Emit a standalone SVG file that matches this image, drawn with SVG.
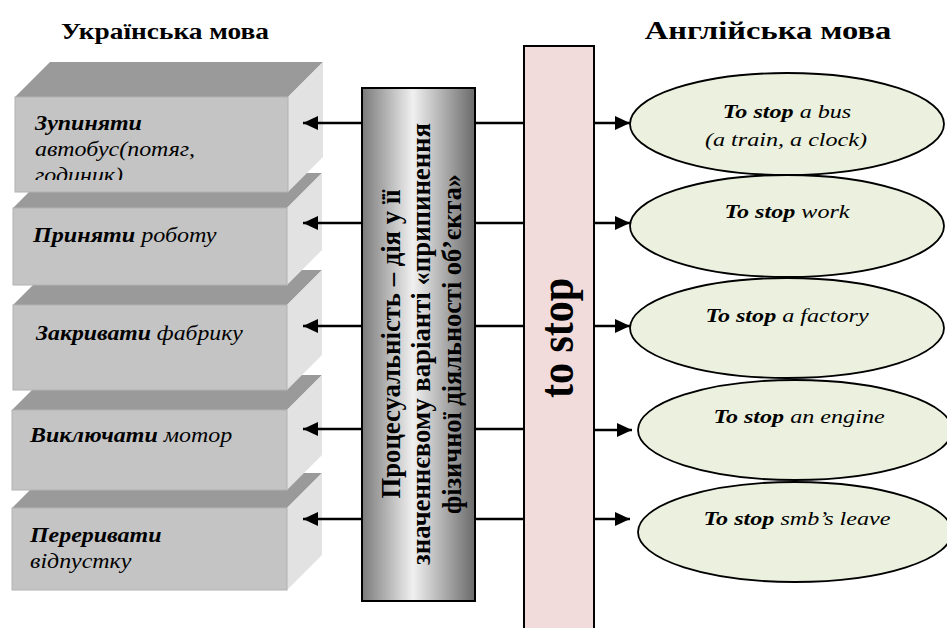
<svg xmlns="http://www.w3.org/2000/svg" width="947" height="628" viewBox="0 0 947 628" font-family="'Liberation Serif', 'Times New Roman', serif">
<style>
.top{fill:#9a9a9a}
.front{fill:#c4c4c4;stroke:#b2b2b2;stroke-width:1}
.side{fill:#e2e2e2}
.b{font-weight:bold}
.i{font-style:italic}
.bi{font-weight:bold;font-style:italic}
.conn{stroke:#000;stroke-width:2.5;fill:none}
.ell{fill:#ebf1de;stroke:#000;stroke-width:1.8}
text{font-family:'Liberation Serif','Times New Roman',serif;fill:#000}
</style>
<defs>
<marker id="ah" markerUnits="userSpaceOnUse" markerWidth="16" markerHeight="14" refX="15" refY="7" orient="auto">
<path d="M0,0 L15,7 L0,14 z" fill="#000"/>
</marker>
<linearGradient id="gg" x1="0" y1="0" x2="1" y2="0">
<stop offset="0" stop-color="#7a7a7a"/>
<stop offset="0.45" stop-color="#f0f0f0"/>
<stop offset="1" stop-color="#6a6a6a"/>
</linearGradient>
<clipPath id="c1"><rect x="15" y="97" width="273" height="83"/></clipPath>
</defs>
<rect width="947" height="628" fill="#fff"/>

<text class="b" font-size="24" text-anchor="middle" transform="matrix(1.14 0 0 1 165 39)">Українська мова</text>
<text class="b" font-size="25" text-anchor="middle" transform="matrix(1.3 0 0 1 768 39)">Англійська мова</text>

<g id="box5">
<polygon class="top" points="12,508 47,473 322,473 287,508"/>
<polygon class="side" points="287,508 322,473 322,555 287,590"/>
<rect class="front" x="12" y="508" width="275" height="82"/>
<text class="bi" font-size="21" transform="matrix(1.14 0 0 1 30 542)">Переривати</text>
<text class="i" font-size="21" transform="matrix(1.14 0 0 1 30 568)">відпустку</text>
</g>
<g id="box4">
<polygon class="top" points="12,410 47,375 322,375 287,410"/>
<polygon class="side" points="287,410 322,375 322,455 287,490"/>
<rect class="front" x="12" y="410" width="275" height="80"/>
<text font-size="21" transform="matrix(1.14 0 0 1 30 442)"><tspan class="bi">Виключати</tspan><tspan class="i"> мотор</tspan></text>
</g>
<g id="box3">
<polygon class="top" points="13,305 48,270 322,270 287,305"/>
<polygon class="side" points="287,305 322,270 322,355 287,390"/>
<rect class="front" x="13" y="305" width="274" height="85"/>
<text font-size="21" transform="matrix(1.13 0 0 1 36 340)"><tspan class="bi">Закривати</tspan><tspan class="i"> фабрику</tspan></text>
</g>
<g id="box2">
<polygon class="top" points="13,208 48,173 322,173 287,208"/>
<polygon class="side" points="287,208 322,173 322,250 287,285"/>
<rect class="front" x="13" y="208" width="274" height="77"/>
<text font-size="21" transform="matrix(1.15 0 0 1 33 242)"><tspan class="bi">Приняти</tspan><tspan class="i"> роботу</tspan></text>
</g>
<g id="box1">
<polygon class="top" points="15,97 50,62 323,62 288,97"/>
<polygon class="side" points="288,97 323,62 323,157 288,192"/>
<rect class="front" x="15" y="97" width="273" height="95"/>
<g clip-path="url(#c1)">
<text class="bi" font-size="21" transform="matrix(1.14 0 0 1 35 130)">Зупиняти</text>
<text class="i" font-size="21" transform="matrix(1.14 0 0 1 35 156)">автобус(потяг,</text>
<text class="i" font-size="21" transform="matrix(1.14 0 0 1 35 182)">годиник)</text>
</g>
</g>

<g id="connectors">
<line class="conn" x1="362" y1="123" x2="303" y2="123" marker-end="url(#ah)"/>
<line class="conn" x1="362" y1="223" x2="303" y2="223" marker-end="url(#ah)"/>
<line class="conn" x1="362" y1="326" x2="303" y2="326" marker-end="url(#ah)"/>
<line class="conn" x1="362" y1="429" x2="303" y2="429" marker-end="url(#ah)"/>
<line class="conn" x1="362" y1="519" x2="303" y2="519" marker-end="url(#ah)"/>
<line class="conn" x1="475" y1="123" x2="524" y2="123"/>
<line class="conn" x1="475" y1="223" x2="524" y2="223"/>
<line class="conn" x1="475" y1="326" x2="524" y2="326"/>
<line class="conn" x1="475" y1="429" x2="524" y2="429"/>
<line class="conn" x1="475" y1="519" x2="524" y2="519"/>
<line class="conn" x1="594" y1="123" x2="630" y2="123" marker-end="url(#ah)"/>
<line class="conn" x1="594" y1="223" x2="630" y2="223" marker-end="url(#ah)"/>
<line class="conn" x1="594" y1="326" x2="630" y2="326" marker-end="url(#ah)"/>
<line class="conn" x1="594" y1="430" x2="632" y2="430" marker-end="url(#ah)"/>
<line class="conn" x1="594" y1="519" x2="630" y2="519" marker-end="url(#ah)"/>
</g>

<g id="process">
<rect x="362" y="88" width="113" height="513" fill="url(#gg)" stroke="#000" stroke-width="2"/>
<g transform="translate(0,344) rotate(-90)">
<text class="b" x="0" y="400" font-size="28" text-anchor="middle" textLength="309" lengthAdjust="spacingAndGlyphs">Процесуальність – дія у її</text>
<text class="b" x="0" y="430" font-size="28" text-anchor="middle" textLength="442" lengthAdjust="spacingAndGlyphs">значеннєвому варіанті «припинення</text>
<text class="b" x="0" y="461" font-size="28" text-anchor="middle" textLength="340" lengthAdjust="spacingAndGlyphs">фізичної діяльності об’єкта»</text>
</g>
</g>

<g id="tostop">
<rect x="524" y="46" width="70" height="600" fill="#f2dcdb" stroke="#000" stroke-width="2"/>
<text class="b" font-size="48" text-anchor="middle" transform="translate(573,338) rotate(-90)" textLength="120" lengthAdjust="spacingAndGlyphs">to stop</text>
</g>

<g id="e1">
<ellipse class="ell" cx="787" cy="124" rx="157" ry="51"/>
<text font-size="19" text-anchor="middle" transform="matrix(1.27 0 0 1 787 118)"><tspan class="bi">To stop</tspan><tspan class="i"> a bus</tspan></text>
<text class="i" font-size="19" text-anchor="middle" transform="matrix(1.27 0 0 1 786 146)">(a train, a clock)</text>
</g>
<g id="e2">
<ellipse class="ell" cx="787" cy="226" rx="157" ry="51"/>
<text font-size="19" text-anchor="middle" transform="matrix(1.27 0 0 1 787 218)"><tspan class="bi">To stop</tspan><tspan class="i"> work</tspan></text>
</g>
<g id="e3">
<ellipse class="ell" cx="787" cy="328" rx="157" ry="50"/>
<text font-size="19" text-anchor="middle" transform="matrix(1.27 0 0 1 787 322)"><tspan class="bi">To stop</tspan><tspan class="i"> a factory</tspan></text>
</g>
<g id="e4">
<ellipse class="ell" cx="795" cy="430" rx="157" ry="50"/>
<text font-size="19" text-anchor="middle" transform="matrix(1.27 0 0 1 799 423)"><tspan class="bi">To stop</tspan><tspan class="i"> an engine</tspan></text>
</g>
<g id="e5">
<ellipse class="ell" cx="795" cy="532" rx="157" ry="50"/>
<text font-size="19" text-anchor="middle" transform="matrix(1.27 0 0 1 797 525)"><tspan class="bi">To stop</tspan><tspan class="i"> smb’s leave</tspan></text>
</g>
</svg>
